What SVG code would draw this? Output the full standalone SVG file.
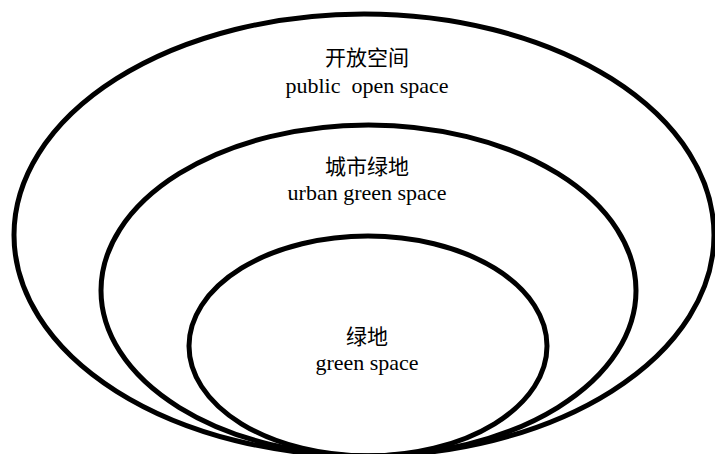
<svg xmlns="http://www.w3.org/2000/svg" width="715" height="454" viewBox="0 0 715 454">
  <style>
    .ring { fill: none; stroke: #000; stroke-width: 5; }
    .zh { font-family: "Noto Sans CJK SC", "Noto Sans", sans-serif; font-size: 21px; fill: #000; text-anchor: middle; }
    .en { font-family: "Liberation Serif", "Times New Roman", serif; font-size: 22px; fill: #000; text-anchor: middle; }
  </style>
  <rect x="0" y="0" width="715" height="454" fill="#fff"/>
  <g id="public-open-space">
    <ellipse class="ring" cx="364" cy="235" rx="350" ry="221"/>
    <text class="zh" x="367" y="65">开放空间</text>
    <text class="en" x="367" y="93" xml:space="preserve">public  open space</text>
  </g>
  <g id="urban-green-space">
    <ellipse class="ring" cx="368.5" cy="290.5" rx="267.5" ry="165.5"/>
    <text class="zh" x="367" y="174">城市绿地</text>
    <text class="en" x="367" y="200">urban green space</text>
  </g>
  <g id="green-space">
    <ellipse class="ring" cx="368" cy="346" rx="179" ry="110"/>
    <text class="zh" x="367" y="344">绿地</text>
    <text class="en" x="367" y="370">green space</text>
  </g>
  <g id="connectors"/>
</svg>
